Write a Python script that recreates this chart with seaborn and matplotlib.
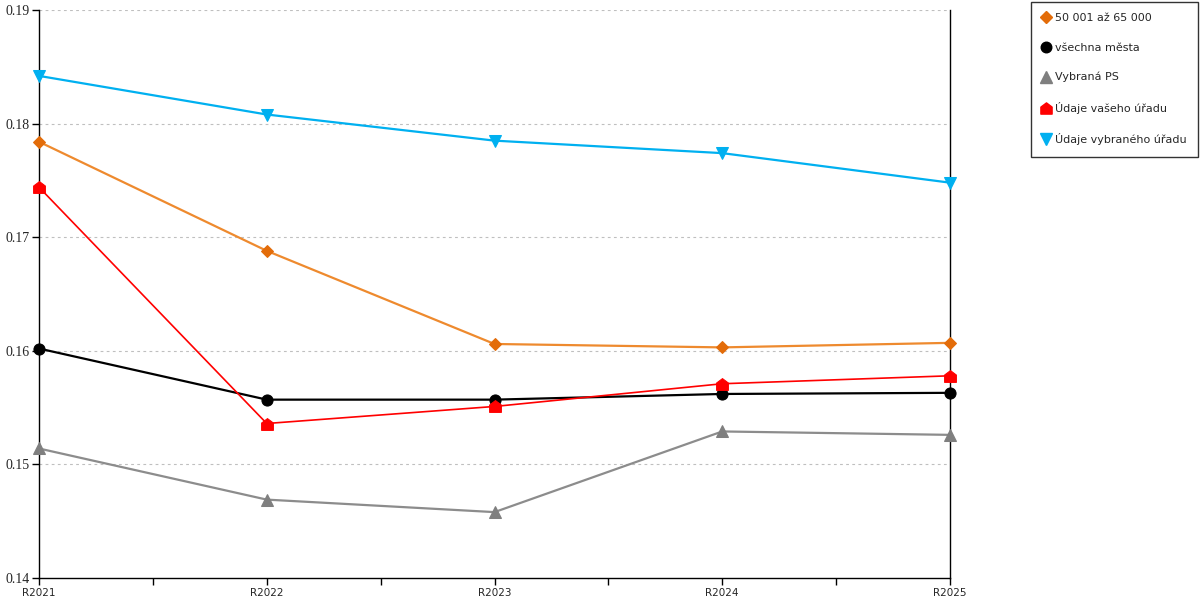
import pandas as pd
import matplotlib
matplotlib.use('Agg')
import matplotlib.pyplot as plt
import seaborn as sns
from matplotlib.lines import Line2D
from matplotlib.path import Path
from matplotlib.ticker import MultipleLocator

# Data
roky = ['R2021', 'R2022', 'R2023', 'R2024', 'R2025']
serie = ['50 001 až 65 000', 'všechna města', 'Vybraná PS',
         'Údaje vašeho úřadu', 'Údaje vybraného úřadu']
hodnoty_50_65 = [0.1784, 0.1688, 0.1606, 0.1603, 0.1607]
hodnoty_mesta = [0.1602, 0.1557, 0.1557, 0.1562, 0.1563]
hodnoty_ps = [0.1514, 0.1469, 0.1458, 0.1529, 0.1526]
hodnoty_vas = [0.1744, 0.1536, 0.1551, 0.1571, 0.1578]
hodnoty_vybrany = [0.1842, 0.1808, 0.1785, 0.1774, 0.1748]

# House-shaped marker for "Údaje vašeho úřadu"
house = Path([(-1, -1), (1, -1), (1, 0.25), (0, 1), (-1, 0.25), (-1, -1)],
             [Path.MOVETO] + [Path.LINETO] * 4 + [Path.CLOSEPOLY])

line_colors = ['#EE8A2E', '#000000', '#8C8C8C', '#FF0000', '#00B0F0']
marker_colors = ['#E36C09', '#000000', '#7F7F7F', '#FF0000', '#00B0F0']
markers = ['D', 'o', '^', house, 'v']
msizes = [6, 8, 8.5, 8.5, 8.5]
lwidths = [1.6, 1.6, 1.6, 1.2, 1.6]

all_vals = [hodnoty_50_65, hodnoty_mesta, hodnoty_ps, hodnoty_vas, hodnoty_vybrany]
df = pd.concat([
    pd.DataFrame({'rok': roky, 'hodnota': v, 'serie': s})
    for s, v in zip(serie, all_vals)
])

sns.set_style('white')
fig = plt.figure(figsize=(12, 6), dpi=100)
ax = fig.add_axes([39 / 1200, 22 / 600, 911 / 1200, 568 / 600])

for i, s in enumerate(serie):
    sns.lineplot(data=df[df['serie'] == s], x='rok', y='hodnota', ax=ax,
                 color=line_colors[i], linewidth=lwidths[i], marker=markers[i],
                 markersize=msizes[i], markerfacecolor=marker_colors[i],
                 markeredgecolor=marker_colors[i], legend=False, zorder=3 + i,
                 clip_on=False)

ax.set_xlim(0, 4)
ax.set_ylim(0.14, 0.19)
ax.set_xlabel('')
ax.set_ylabel('')

ax.xaxis.set_minor_locator(MultipleLocator(0.5))
ax.set_yticks([0.14, 0.15, 0.16, 0.17, 0.18, 0.19])
ax.set_yticklabels(['0.14', '0.15', '0.16', '0.17', '0.18', '0.19'],
                   family='Liberation Serif', fontsize=10)
for lab in ax.get_xticklabels():
    lab.set_fontsize(7.5)
    lab.set_family('DejaVu Sans')

ax.tick_params(axis='x', which='both', direction='out', length=5, width=1,
               color='black', pad=2, bottom=True)
ax.tick_params(axis='y', direction='out', length=5, width=1, color='black',
               pad=2, left=True)

# dotted horizontal grid
for yv in [0.15, 0.16, 0.17, 0.18, 0.19]:
    ax.axhline(yv, color='#BFBFBF', linestyle=(0, (2.5, 3)), linewidth=0.8, zorder=1)

for side in ['left', 'bottom', 'right']:
    ax.spines[side].set_visible(True)
    ax.spines[side].set_color('black')
    ax.spines[side].set_linewidth(1)
ax.spines['top'].set_visible(False)

# legend: markers only, boxed, right of the plot
handles = [Line2D([], [], linestyle='none', marker=markers[i],
                  markersize=msizes[i] * 0.95, markerfacecolor=marker_colors[i],
                  markeredgecolor=marker_colors[i])
           for i in range(len(serie))]
leg = fig.legend(handles, serie, loc='upper right',
                 bbox_to_anchor=(1198 / 1200, 1 - 2 / 600),
                 frameon=True, fancybox=False, edgecolor='black',
                 handletextpad=0.45, handlelength=0.7, labelspacing=1.75,
                 borderpad=1.0, borderaxespad=0,
                 prop={'size': 8.0, 'family': 'DejaVu Sans'})
leg.get_frame().set_linewidth(1)

fig.savefig('out.png', dpi=100)
